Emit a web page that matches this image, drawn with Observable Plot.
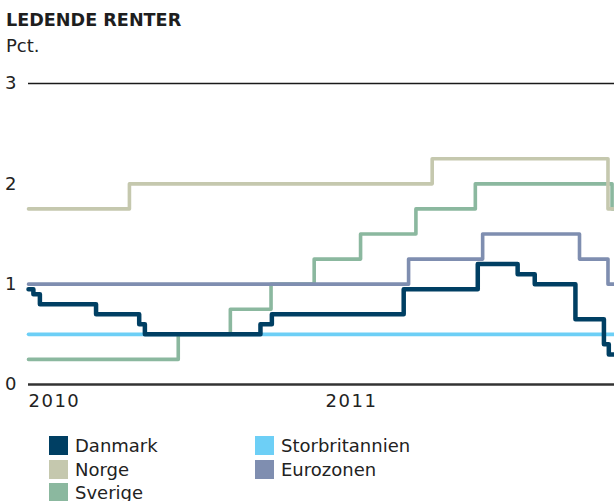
<!DOCTYPE html>
<html>
<head>
<meta charset="utf-8">
<script src="https://cdn.jsdelivr.net/npm/d3@7"></script>
<script src="https://cdn.jsdelivr.net/npm/@observablehq/plot@0.6"></script>
<style>
  html, body { margin: 0; padding: 0; background: #fff; }
  #wrap { position: relative; width: 614px; height: 501px; overflow: hidden; font-family: "DejaVu Sans", sans-serif; color: #222; }
  #title { position: absolute; left: 6px; top: 12px; font-size: 17.6px; line-height: 1; font-weight: bold; white-space: nowrap; color: #1e1e1e; }
  #sub { position: absolute; left: 6px; top: 36.5px; font-size: 18px; line-height: 1; white-space: nowrap; }
  #chart { position: absolute; left: 0; top: 0; }
  .lg { position: absolute; display: flex; align-items: center; height: 19px; }
  .lg .sw { width: 19px; height: 19px; margin-right: 7px; }
  .lg span { font-size: 18px; line-height: 19px; white-space: nowrap; }
  g[aria-label="x-axis tick label"] text { letter-spacing: 1.5px; }
</style>
</head>
<body>
<div id="wrap">
  <div id="title">LEDENDE RENTER</div>
  <div id="sub">Pct.</div>
  <div id="chart"></div>
  <div id="legend"></div>
</div>
<script>
const seriesNames = ["Danmark", "Norge", "Sverige", "Storbritannien", "Eurozonen"];
const seriesColors = ["#003f63", "#c5c8ae", "#8bb89f", "#6dcff6", "#7f8eb0"];

const danmarkDates = ["2010-01-01","2010-01-07","2010-01-15","2010-03-25","2010-05-17","2010-05-24","2010-10-13","2010-10-27","2011-04-07","2011-07-07","2011-08-25","2011-09-15","2011-11-04","2011-12-09","2011-12-15","2011-12-22"];
const danmarkValues = [0.95, 0.90, 0.80, 0.70, 0.60, 0.50, 0.60, 0.70, 0.95, 1.20, 1.10, 1.00, 0.65, 0.40, 0.30, 0.30];

const norgeDates = ["2010-01-01","2010-05-05","2011-05-12","2011-12-14","2011-12-22"];
const norgeValues = [1.75, 2.00, 2.25, 1.75, 1.75];

const sverigeDates = ["2010-01-01","2010-07-04","2010-09-06","2010-10-26","2010-12-18","2011-02-13","2011-04-22","2011-07-04","2011-12-19","2011-12-22"];
const sverigeValues = [0.25, 0.50, 0.75, 1.00, 1.25, 1.50, 1.75, 2.00, 1.75, 1.75];

const storbritannienDates = ["2010-01-01","2011-12-22"];
const storbritannienValues = [0.50, 0.50];

const eurozonenDates = ["2010-01-01","2011-04-13","2011-07-13","2011-11-09","2011-12-14","2011-12-22"];
const eurozonenValues = [1.00, 1.25, 1.50, 1.25, 1.00, 1.00];

const yTicks = [0, 1, 2, 3];
const xTickLabels = ["2010", "2011"];
const xDomain = ["2010-01-01", "2011-12-22"];

function rows(name, dates, values) {
  return dates.map((d, i) => ({ series: name, date: new Date(d + "T00:00:00Z"), value: values[i] }));
}
const data = {
  Danmark: rows("Danmark", danmarkDates, danmarkValues),
  Norge: rows("Norge", norgeDates, norgeValues),
  Sverige: rows("Sverige", sverigeDates, sverigeValues),
  Storbritannien: rows("Storbritannien", storbritannienDates, storbritannienValues),
  Eurozonen: rows("Eurozonen", eurozonenDates, eurozonenValues)
};
const colorOf = Object.fromEntries(seriesNames.map((n, i) => [n, seriesColors[i]]));
const drawOrder = ["Storbritannien", "Sverige", "Norge", "Eurozonen", "Danmark"];

const lineMarks = drawOrder.map(name => Plot.line(data[name], {
  x: "date", y: "value", curve: "step-after",
  stroke: colorOf[name], strokeWidth: name === "Danmark" ? 4.5 : 3.6,
  strokeLinecap: "round", strokeLinejoin: "round"
}));

const chart = Plot.plot({
  width: 614,
  height: 420,
  marginTop: 83,
  marginBottom: 36,
  marginLeft: 28,
  marginRight: 0,
  style: { fontFamily: "DejaVu Sans, sans-serif", fontSize: "18px", color: "#222", background: "transparent" },
  x: { type: "utc", domain: xDomain.map(d => new Date(d + "T00:00:00Z")) },
  y: { domain: [0, 3] },
  marks: [
    Plot.ruleY([3], { stroke: "#1a1a1a", strokeWidth: 1.4 }),
    ...lineMarks,
    Plot.ruleY([0], { stroke: "#333", strokeWidth: 2.5 }),
    Plot.axisY({ ticks: yTicks, tickFormat: d => String(d), tickSize: 0, tickPadding: 12, label: null, fill: "#222" }),
    Plot.axisX({
      ticks: xTickLabels.map(y => new Date(y + "-01-01T00:00:00Z")),
      tickFormat: d => String(d.getUTCFullYear()),
      tickSize: 0, tickPadding: 10, textAnchor: "start", label: null, fill: "#222"
    })
  ]
});
document.getElementById("chart").appendChild(chart);

const legend = document.getElementById("legend");
const legendCols = [["Danmark", "Norge", "Sverige"], ["Storbritannien", "Eurozonen"]];
const colX = [49, 255];
legendCols.forEach((col, ci) => {
  col.forEach((name, ri) => {
    const item = document.createElement("div");
    item.className = "lg";
    item.style.left = colX[ci] + "px";
    item.style.top = (436 + ri * 23.6) + "px";
    const sw = document.createElement("div");
    sw.className = "sw";
    sw.style.background = colorOf[name];
    const sp = document.createElement("span");
    sp.textContent = name;
    item.appendChild(sw);
    item.appendChild(sp);
    legend.appendChild(item);
  });
});
</script>
</body>
</html>
